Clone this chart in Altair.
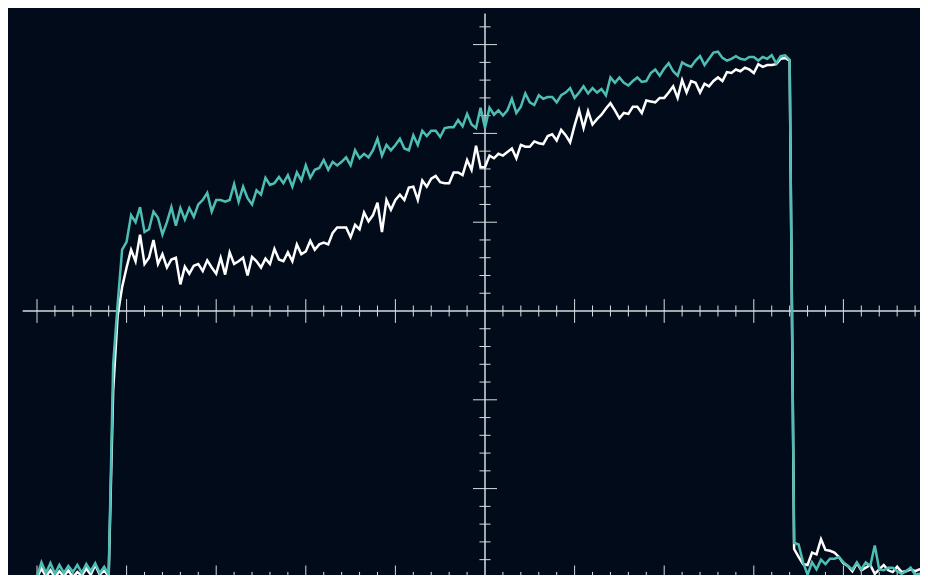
import altair as alt
import pandas as pd

BG = "#020b1a"
TEAL = "#4ebeb4"
WHITE = "#ffffff"
AXIS = "#d6dce2"

# sample grid (divisions)
t0 = -5.0
dt = 0.05

ch1 = [-2.99, -2.83, -2.95, -2.84, -2.96, -2.86, -2.95, -2.87, -2.94, -2.86, -2.95, -2.85, -2.93, -2.84, -2.95, -2.88, -2.97,
       -0.6, 0.08, 0.69, 0.78,
       1.08, 1.0, 1.17, 0.89, 0.92, 1.12, 1.05, 0.86, 1.0, 1.17, 0.96, 1.16, 1.03, 1.16, 1.06, 1.2, 1.25, 1.33, 1.12, 1.25,
       1.25, 1.23, 1.25, 1.43, 1.23, 1.40, 1.27, 1.2, 1.36, 1.31, 1.50, 1.42, 1.44, 1.51, 1.44, 1.53, 1.40, 1.56,
       1.47, 1.64, 1.5, 1.59, 1.61, 1.70, 1.59, 1.68, 1.64, 1.68, 1.73, 1.64, 1.81, 1.72, 1.77, 1.73, 1.81, 1.94, 1.75, 1.87,
       1.81, 1.87, 1.94, 1.83, 1.81, 1.98, 1.87, 2.03, 1.97, 2.03, 2.03, 1.96, 2.06, 2.07, 2.07, 2.15, 2.08, 2.22, 2.10, 2.06,
       2.29, 2.06, 2.29, 2.21, 2.26, 2.20, 2.26, 2.39, 2.23, 2.30, 2.45, 2.35, 2.32, 2.43, 2.39, 2.41, 2.41, 2.35, 2.43, 2.46,
       2.51, 2.40, 2.46, 2.53, 2.45, 2.51,
       2.46, 2.50, 2.43, 2.63, 2.57, 2.63, 2.57, 2.54, 2.59, 2.63, 2.58, 2.59, 2.68, 2.72, 2.65, 2.73, 2.79, 2.70, 2.65, 2.80,
       2.77, 2.75, 2.82, 2.87, 2.77, 2.84, 2.91, 2.92, 2.85, 2.82, 2.84, 2.87, 2.84, 2.83, 2.86, 2.86, 2.82, 2.86, 2.84, 2.88,
       2.79, 2.87, 2.88, 2.83,
       -2.61, -2.63, -2.83, -2.97, -2.83, -2.91, -2.80, -2.85, -2.79, -2.79, -2.77, -2.83, -2.87, -2.91, -2.83, -2.91, -2.83,
       -2.87, -2.64, -2.91, -2.92, -2.89, -2.89, -2.93, -2.96, -2.93, -2.89, -2.97, -2.96, -2.96, -2.96]

ch2 = [-3.0, -2.9, -2.99, -2.92, -3.0, -2.93, -2.99, -2.92, -3.0, -2.94, -2.98, -2.9, -2.97, -2.86, -2.97, -2.92, -2.99,
       -0.9, -0.05,
       0.27, 0.49, 0.69, 0.56, 0.86, 0.53, 0.60, 0.80, 0.53, 0.64, 0.49, 0.58, 0.60, 0.30, 0.50, 0.42, 0.51, 0.53, 0.45, 0.57,
       0.49, 0.42, 0.60, 0.41, 0.66, 0.53, 0.56, 0.60, 0.40, 0.61, 0.56, 0.49, 0.59, 0.53, 0.70, 0.58, 0.56, 0.66, 0.56, 0.75,
       0.64, 0.67, 0.79, 0.69, 0.75, 0.77, 0.75, 0.88, 0.94, 0.94,
       0.94, 0.83, 0.97, 0.92, 1.11, 1.01, 1.08, 1.22, 0.89, 1.25, 1.14, 1.25, 1.31, 1.25, 1.39, 1.40, 1.25, 1.47, 1.40, 1.49,
       1.52, 1.45, 1.44, 1.44, 1.56, 1.56, 1.53, 1.70, 1.59, 1.86, 1.62, 1.62, 1.75, 1.72, 1.77, 1.75, 1.79, 1.83, 1.72, 1.87,
       1.85, 1.85, 1.91, 1.89, 1.88, 1.97, 1.99, 1.92, 2.04, 1.98, 1.90, 2.09, 2.26, 2.06, 2.25, 2.10, 2.16, 2.21, 2.28,
       2.34, 2.26, 2.17, 2.23, 2.22, 2.30, 2.30, 2.23, 2.37, 2.36, 2.35, 2.40, 2.40, 2.46, 2.53, 2.40, 2.60, 2.46, 2.59, 2.57,
       2.46, 2.56, 2.53, 2.59, 2.63, 2.59, 2.69, 2.68, 2.72, 2.70, 2.74, 2.72, 2.68, 2.78, 2.75, 2.77, 2.77, 2.78, 2.84, 2.85,
       2.82,
       -2.68, -2.77, -2.85, -2.86, -2.72, -2.74, -2.57, -2.69, -2.70, -2.72, -2.77, -2.84, -2.87, -2.93, -2.84, -2.92, -2.89,
       -2.86, -2.96, -2.91, -2.86, -2.92, -2.94, -2.88, -2.94, -2.93, -2.91, -2.93, -2.91, -2.92, -2.92]

n = len(ch1)
time = [round(t0 + dt * i, 4) for i in range(n)]

# graticule
major_x = [-5, -4, -3, -2, -1, 1, 2, 3, 4, 5]
minor_x = [round(-5 + 0.2 * k, 2) for k in range(51) if k % 5 != 0]
major_y = [-3, -2, -1, 1, 2, 3]
minor_y = [round(-3.2 + 0.2 * k, 2) for k in range(33) if round(-3.2 + 0.2 * k, 2) not in (-3.0, -2.0, -1.0, 0.0, 1.0, 2.0, 3.0)]
MAJ = 0.134
MIN = 0.062
BOTTOM = -3.0

xs = alt.Scale(domain=[-5.3237, 4.8549], nice=False, zero=False)
ys = alt.Scale(domain=[-2.9729, 3.4122], nice=False, zero=False)
X = lambda f: alt.X(f, type="quantitative", scale=xs, axis=None)
Y = lambda f: alt.Y(f, type="quantitative", scale=ys, axis=None)

vt_rows = []
for v in major_x:
    vt_rows.append({"x": v, "y": -MAJ, "y2": MAJ})
    vt_rows.append({"x": v, "y": BOTTOM - MAJ, "y2": BOTTOM + MAJ})
for v in minor_x:
    vt_rows.append({"x": v, "y": -MIN, "y2": MIN})
    vt_rows.append({"x": v, "y": BOTTOM - MIN, "y2": BOTTOM + MIN})
ht_rows = []
for v in major_y:
    ht_rows.append({"y": v, "x": -MAJ, "x2": MAJ})
for v in minor_y:
    ht_rows.append({"y": v, "x": -MIN, "x2": MIN})

vticks = alt.Chart(pd.DataFrame(vt_rows)).mark_rule(color=AXIS, strokeWidth=1, clip=True).encode(
    x=X("x"), y=Y("y"), y2="y2")
hticks = alt.Chart(pd.DataFrame(ht_rows)).mark_rule(color=AXIS, strokeWidth=1, clip=True).encode(
    y=Y("y"), x=X("x"), x2="x2")

haxis = alt.Chart(pd.DataFrame({"x": [-5.16], "x2": [5.3], "y": [0]})).mark_rule(
    color=AXIS, strokeWidth=1.5, clip=True).encode(x=X("x"), x2="x2", y=Y("y"))
vaxis = alt.Chart(pd.DataFrame({"y": [-3.5], "y2": [3.35], "x": [0]})).mark_rule(
    color=AXIS, strokeWidth=1.5, clip=True).encode(y=Y("y"), y2="y2", x=X("x"))

df2 = pd.DataFrame({"t": time, "v": ch2})
df1 = pd.DataFrame({"t": time, "v": ch1})
line2 = alt.Chart(df2).mark_line(color=WHITE, strokeWidth=2.5, clip=True, strokeJoin="miter").encode(
    x=X("t"), y=Y("v"))
line1 = alt.Chart(df1).mark_line(color=TEAL, strokeWidth=2.5, clip=True, strokeJoin="miter").encode(
    x=X("t"), y=Y("v"))

chart = alt.layer(vticks, hticks, haxis, vaxis, line2, line1).properties(
    width=912, height=567, padding=0, background=BG
).configure_view(stroke=None, fill=BG)

chart.save("out.html", embed_options={"renderer": "svg", "actions": False})
